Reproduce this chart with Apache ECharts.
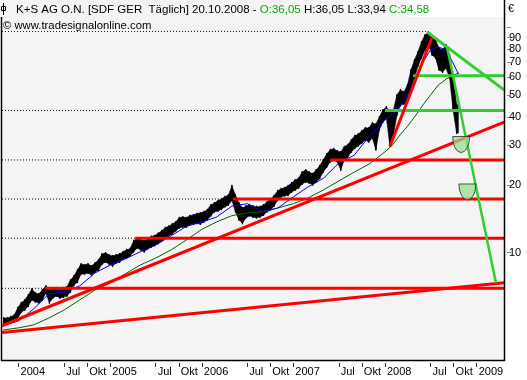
<!DOCTYPE html>
<html><head><meta charset="utf-8">
<script src="https://cdn.jsdelivr.net/npm/echarts@6/dist/echarts.min.js"></script>
<style>html,body{margin:0;padding:0;background:#fff}#c{width:527px;height:380px}</style>
</head><body><div id="c"></div>
<script>
// ---------- data ----------
const priceStart = '2003-11-03';
const priceStepDays = 14;
const priceHigh = [5.13,5.13,5.19,5.29,5.69,5.99,6.17,6.49,6.90,6.63,
 6.56,6.83,7.12,6.83,6.90,6.98,6.83,6.98,7.05,7.56,
 7.88,8.38,8.91,8.82,8.91,8.73,9.0,9.28,9.87,9.97,
 9.77,9.67,9.77,9.87,10.1,10.3,10.4,11.3,11.6,11.4,
 11.3,11.5,11.8,11.9,12.2,12.5,12.9,13.1,13.4,13.7,
 14.3,14.4,14.3,14.6,14.7,14.9,15.0,15.2,15.5,16.3,
 16.6,17.0,17.3,17.7,18.0,19.8,18.0,16.6,15.8,16.1,
 16.3,16.1,16.0,16.0,16.3,16.8,17.3,17.9,18.8,19.2,
 19.4,19.8,20.4,21.0,21.4,22.8,23.3,22.8,22.4,23.3,
 24.3,25.8,27.4,28.6,28.9,28.3,28.0,29.5,30.1,31.6,
 33.0,33.6,34.7,35.8,35.8,37.6,37.2,40.0,43.0,44.3,
 42.1,43.0,50.1,52.8,51.7,55.5,64.7,71.7,77.8,86.2,
 92.6,95.4,91.6,88.0,81.1,79.4,83.6,75.5,61.5,45.3];
const priceLow = [4.83,4.88,4.88,4.93,5.13,5.46,5.57,5.80,6.17,6.05,
 5.99,6.17,6.63,5.99,6.30,6.43,6.30,6.36,6.43,6.70,
 7.19,7.41,8.05,8.05,8.13,7.96,8.21,8.38,8.91,9.09,
 8.91,8.73,9.0,9.09,9.38,9.47,9.67,10.1,10.5,10.3,
 10.1,10.4,10.6,10.8,11.0,11.3,11.6,11.9,12.1,12.5,
 12.9,13.0,13.0,13.3,13.4,13.5,13.4,13.7,14.0,14.6,
 15.2,15.3,15.6,16.0,16.3,17.1,15.2,14.0,13.5,14.3,
 14.6,14.4,14.3,14.4,14.7,15.2,15.5,16.1,17.1,17.7,
 17.9,18.0,18.6,19.0,19.4,20.2,20.6,20.4,20.0,20.6,
 21.4,22.8,24.0,25.3,25.8,25.3,23.3,25.8,26.6,28.0,
 29.1,29.8,30.7,31.6,31.0,32.3,28.6,35.1,38.0,39.6,
 29.8,33.3,40.9,45.3,45.7,47.6,53.8,59.6,67.4,73.2,
 79.4,83.6,75.5,73.2,64.7,63.4,66.0,59.6,43.0,34.0];

const maDates = ['2003-11-01','2004-01-01','2004-03-01','2004-05-01','2004-07-01','2004-09-01','2004-11-01',
 '2005-01-01','2005-03-01','2005-05-01','2005-07-01','2005-09-01','2005-11-01',
 '2006-01-01','2006-03-01','2006-05-01','2006-07-01','2006-09-01','2006-11-01',
 '2007-01-01','2007-03-01','2007-05-01','2007-07-01','2007-09-01','2007-11-01',
 '2008-01-01','2008-02-01','2008-03-01','2008-04-01','2008-05-01','2008-06-01','2008-07-01','2008-08-01','2008-09-01','2008-10-01','2008-10-20'];
const maFast = [4.78,4.98,5.63,6.56,6.70,7.12,8.13,8.82,9.38,10.1,10.8,11.9,13.1,13.7,14.4,16.1,16.5,15.2,15.8,17.7,19.6,21.4,25.0,27.1,33.0,38.8,41.3,44.3,50.1,58.4,70.3,79.4,81.9,79.4,68.8,62.1];
const maSlow = [4.54,4.64,4.78,5.13,5.57,6.17,6.83,7.34,8.05,8.82,9.47,10.3,11.4,12.7,13.7,14.6,15.0,15.2,15.8,16.5,17.5,19.0,20.8,22.8,24.8,28.0,30.1,33.3,36.5,40.4,45.3,50.1,55.5,58.9,61.5,62.7];

const redLevels = [25.8, 17.3, 11.6, 6.95];
const redLevelStart = ['2007-05-27','2006-05-05','2005-04-10','2004-04-15'];
const greenLevels = [61.0, 42.8];
const greenLevelStart = ['2008-04-22','2008-01-01'];
const dottedLevels = [96.0, 42.8, 25.8, 17.3, 11.6, 6.95];
const dottedEnd = ['2008-06-15','2008-01-01','2007-05-27','2006-05-05','2005-04-10','2004-04-15'];
const redTrendFrom = [['2003-10-27', 4.74], ['2003-10-27', 4.42], ['2008-01-21', 29.6]];
const redTrendTo   = [['2009-04-20', 38.0], ['2009-04-20', 7.36], ['2008-07-06', 89.8]];
const greenTrendFrom = [['2008-06-17', 95.4], ['2008-09-04', 82.7]];
const greenTrendTo   = [['2009-04-20', 52.8], ['2009-03-19', 7.34]];
const bowlDates = ['2008-10-31', '2008-11-25'];
const bowlValues = [30.2, 18.6];

const xTickDates = ['2004-01-01','2004-07-01','2004-10-01','2005-01-01','2005-07-01','2005-10-01','2006-01-01','2006-07-01','2006-10-01','2007-01-01','2007-07-01','2007-10-01','2008-01-01','2008-07-01','2008-10-01','2009-01-01'];
const xTickLabels = ['2004','Jul','Okt','2005','Jul','Okt','2006','Jul','Okt','2007','Jul','Okt','2008','Jul','Okt','2009'];
const yTickValues = [10,20,30,40,50,60,70,80,90,100];
const yLabelValues = [10,20,30,40,50,60,70,80,90];
const xMinDate = '2003-10-27', xMaxDate = '2009-04-20';
const yMin = 3.34, yMax = 111.2;

// ---------- build ----------
const T = s => Date.parse(s + 'T00:00:00Z');
const L = v => Math.log10(v);
const DAY = 86400000;
const FONT = '"Liberation Sans", Arial, sans-serif';
const stepMs = priceStepDays * DAY;
const t0 = T(priceStart);
const xTickTs = xTickDates.map(T);

const priceData = priceHigh.map((h, i) => {
  const j = Math.min(i + 1, priceHigh.length - 1);
  const tn = i + 1 < priceHigh.length ? t0 + (i + 1) * stepMs : t0 + i * stepMs + stepMs * 0.5;
  return [t0 + i * stepMs, L(h), L(priceLow[i]), tn, L(priceHigh[j]), L(priceLow[j])];
});

function lineSeries(points, color, width, z, type) {
  return { type: 'line', data: points.map(p => [T(p[0]), L(p[1])]), symbol: 'none', silent: true,
    lineStyle: { color: color, width: width, type: type || 'solid' }, z: z, animation: false };
}

const series = [];
series.push({
  type: 'custom', z: 2, silent: true, animation: false,
  renderItem: function (params, api) {
    const a1 = api.coord([api.value(0), api.value(1)]);
    const a2 = api.coord([api.value(0), api.value(2)]);
    const b1 = api.coord([api.value(3), api.value(4)]);
    const b2 = api.coord([api.value(3), api.value(5)]);
    return { type: 'group', children: [
      { type: 'polygon', shape: { points: [a1, b1, b2, a2] }, style: { fill: '#000', stroke: '#000', lineWidth: 0.6 } },
      { type: 'line', shape: { x1: a1[0], y1: a1[1] - 1, x2: a2[0], y2: a2[1] + 1 }, style: { stroke: '#000', lineWidth: 1.2 } }
    ] };
  },
  encode: { x: [0, 3], y: [1, 2, 4, 5] },
  data: priceData
});
series.push(lineSeries(maDates.map((d, i) => [d, maSlow[i]]), '#006400', 1, 3));
series.push(lineSeries(maDates.map((d, i) => [d, maFast[i]]), '#0000ff', 1, 3));
dottedLevels.forEach((v, i) => series.push(lineSeries([[xMinDate, v], [dottedEnd[i], v]], '#000', 1, 3, [1, 2])));
redLevels.forEach((v, i) => series.push(lineSeries([[redLevelStart[i], v], [xMaxDate, v]], '#ff0000', 3, 5)));
greenLevels.forEach((v, i) => series.push(lineSeries([[greenLevelStart[i], v], [xMaxDate, v]], '#33cc33', 3, 5)));
redTrendFrom.forEach((p, i) => series.push(lineSeries([p, redTrendTo[i]], '#ff0000', 3, 5)));
greenTrendFrom.forEach((p, i) => series.push(lineSeries([p, greenTrendTo[i]], '#33cc33', i === 0 ? 3 : 2.5, 6)));
series.push({
  type: 'scatter', z: 8, silent: true, animation: false,
  symbol: 'path://M0 0 H20 A10 16 0 0 1 0 0 Z', symbolSize: [17, 16],
  itemStyle: { color: 'rgba(150,220,140,0.72)', borderColor: '#2a2a2a', borderWidth: 0.8, opacity: 1 },
  data: bowlDates.map((d, i) => [T(d), L(bowlValues[i])])
});

const option = {
  animation: false,
  backgroundColor: '#ffffff',
  grid: { left: 2, right: 23, top: 17, bottom: 20, show: true, backgroundColor: '#f4f4f4', borderWidth: 0, outerBoundsMode: 'none', containLabel: false },
  xAxis: {
    type: 'value', min: T(xMinDate), max: T(xMaxDate), offset: 3,
    splitLine: { show: false }, axisLine: { show: false },
    axisTick: { show: true, length: 4, customValues: xTickTs, lineStyle: { color: '#333', width: 1 } },
    axisLabel: { customValues: xTickTs, margin: 3, align: 'left', padding: [0, 0, 0, 2],
      color: '#000', fontSize: 11, fontFamily: FONT,
      formatter: v => { const k = xTickTs.indexOf(v); return k >= 0 ? xTickLabels[k] : ''; } }
  },
  yAxis: {
    type: 'value', position: 'right', min: L(yMin), max: L(yMax), offset: 3,
    splitLine: { show: false }, axisLine: { show: false },
    axisTick: { show: true, length: 4, customValues: yTickValues.map(L), lineStyle: { color: '#888', width: 1 } },
    axisLabel: { customValues: yLabelValues.map(L), margin: 2, color: '#000', fontSize: 11, fontFamily: FONT,
      formatter: v => String(Math.round(Math.pow(10, v))) }
  },
  series: series,
  graphic: [
    { type: 'rect', z: 100, shape: { x: 0, y: 0, width: 408, height: 17 }, style: { fill: '#f4f4f4' } },
    { type: 'line', z: 101, shape: { x1: 3.5, y1: 3, x2: 3.5, y2: 15 }, style: { stroke: '#000', lineWidth: 1 } },
    { type: 'rect', z: 101, shape: { x: 1.5, y: 6.5, width: 4, height: 4 }, style: { fill: 'none', stroke: '#000', lineWidth: 1 } },
    { type: 'text', z: 102, x: 16, y: 10, style: {
        text: 'K+S AG O.N. [SDF GER  Täglich] 20.10.2008 - {g|O:36,05} H:36,05 L:33,94 {g|C:34,58}',
        font: '11.5px ' + FONT, fill: '#000', verticalAlign: 'middle',
        rich: { g: { fill: '#00b000', font: '11.5px ' + FONT } } } },
    { type: 'text', z: 102, x: 3, y: 25.5, style: { text: '© www.tradesignalonline.com', font: '11.3px ' + FONT, fill: '#000',
        verticalAlign: 'middle', backgroundColor: '#f4f4f4', padding: [0, 1, 0, 0] } },
    { type: 'text', z: 102, x: 508, y: 9, style: { text: '€', font: '11px ' + FONT, fill: '#000', verticalAlign: 'middle' } },
    { type: 'line', z: 110, shape: { x1: 504.5, y1: 0, x2: 504.5, y2: 361 }, style: { stroke: '#000', lineWidth: 1.5 } },
    { type: 'line', z: 110, shape: { x1: 1, y1: 360.5, x2: 505, y2: 360.5 }, style: { stroke: '#000', lineWidth: 1.5 } },
    { type: 'line', z: 110, shape: { x1: 1.5, y1: 17, x2: 1.5, y2: 361 }, style: { stroke: '#000', lineWidth: 1.5 } }
  ]
};
const chart = echarts.init(document.getElementById('c'), null, { renderer: 'canvas' });
chart.setOption(option);
</script></body></html>
